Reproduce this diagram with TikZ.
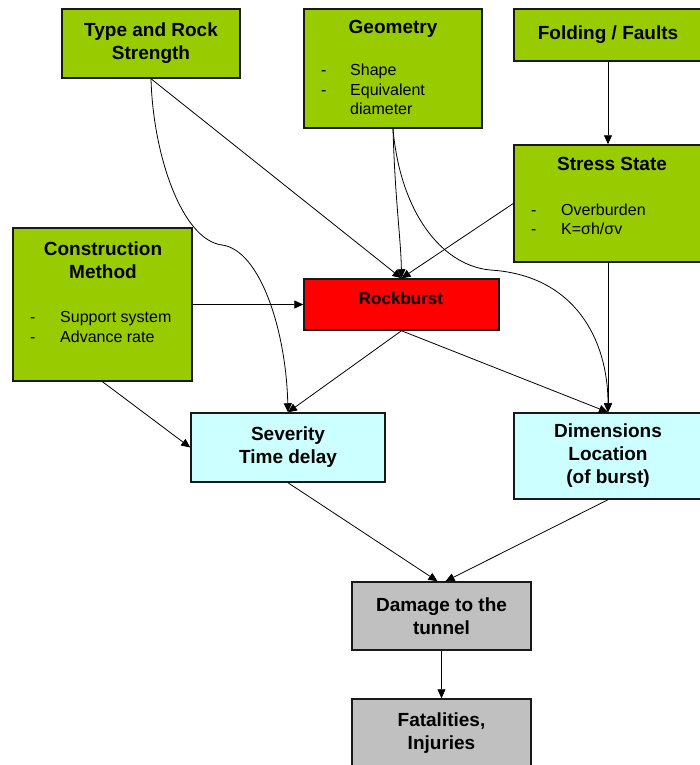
\documentclass[tikz,border=0pt]{standalone}
\usepackage{fontspec}
\setmainfont{Liberation Sans}
\usetikzlibrary{arrows.meta}
\definecolor{leafgreen}{HTML}{99CC00}
\definecolor{burstred}{HTML}{FF0000}
\definecolor{paleblue}{HTML}{CCFFFF}
\definecolor{lossgrey}{HTML}{C0C0C0}

\begin{document}
\begin{tikzpicture}
  [x=1pt, y=-1pt,
   box/.style={draw=black!90, line width=1.5pt, inner sep=0pt},
   factor/.style={box, fill=leafgreen},
   burst/.style={box, fill=burstred},
   effect/.style={box, fill=paleblue},
   loss/.style={box, fill=lossgrey},
   head/.style={font=\bfseries\fontsize{19}{23}\selectfont, align=center},
   items/.style={font=\fontsize{16}{19.5}\selectfont, align=left, inner sep=0pt},
   arr/.style={-{Triangle[length=9pt,width=8pt]}, line width=0.8pt}]

  \useasboundingbox (0,0) rectangle (700,765);

  %Influencing factors
  \node[factor, head, minimum width=178pt, minimum height=69pt] (type) at (151,43.5) {Type and Rock\\Strength};
  \node[factor, minimum width=178pt, minimum height=119pt] (geom) at (393,68.5) {};
  \node[head] (geomhead) at (393,29) {Geometry};
  \node[items, anchor=west] (geomitems) at (321,89.5) {\makebox[29pt][l]{-}Shape\\\makebox[29pt][l]{-}Equivalent\\\hspace*{29pt}diameter};
  \node[factor, head, minimum width=188pt, minimum height=52pt] (fold) at (608,35) {Folding / Faults};
  \node[factor, minimum width=188pt, minimum height=117pt] (stress) at (608,203.5) {};
  \node[head] (stresshead) at (612,164) {Stress State};
  \node[items, anchor=west] (stressitems) at (531,219.5) {\makebox[30pt][l]{-}Overburden\\\makebox[30pt][l]{-}K=σh/σv};
  \node[factor, minimum width=179pt, minimum height=153pt] (cons) at (102.5,304.5) {};
  \node[head] (conshead) at (103,260) {Construction\\Method};
  \node[items, anchor=west] (consitems) at (30,327) {\makebox[30pt][l]{-}Support system\\\makebox[30pt][l]{-}Advance rate};

  %Rockburst and its effects
  \node[burst, minimum width=195pt, minimum height=51pt] (rock) at (401.5,304.5) {};
  \node[head, font=\bfseries\fontsize{17}{20}\selectfont] (rockhead) at (401,298) {Rockburst};
  \node[effect, head, minimum width=194pt, minimum height=69pt] (sev) at (288,447.5) {Severity\\Time delay};
  \node[effect, head, minimum width=188pt, minimum height=86pt] (dim) at (608,456) {Dimensions\\Location\\(of burst)};
  \node[loss, head, minimum width=179pt, minimum height=68pt] (dmg) at (441.5,616) {Damage to the\\tunnel};
  \node[loss, head, minimum width=179pt, minimum height=68pt] (fat) at (441.5,733) {Fatalities,\\Injuries};

  %Straight links
  \foreach \a/\b in {fold.south/stress.north, stress.west/rock.north, type.south/rock.north,
    cons.east/rock.west, cons.south/sev.west, rock.south/sev.north, rock.south/dim.north,
    stress.south/dim.north, dmg.south/fat.north}
    \draw[arr] (\a) -- (\b);
  \draw[arr] (sev.south) -- ([xshift=-4pt]dmg.north);
  \draw[arr] (dim.south) -- ([xshift=4pt]dmg.north);

  %Curved links
  \coordinate (typebend) at (222,245);
  \draw[arr] (type.south) .. controls (153,155) and (182,240) .. (typebend)
    .. controls (260,250) and (286,330) .. (sev.north);
  \draw[arr] (geom.south) .. controls (395,200) and (401,240) .. (rock.north);
  \coordinate (geombend) at (490,270);
  \draw[arr] (geom.south) .. controls (400,210) and (440,265) .. (geombend)
    .. controls (575,275) and (608,340) .. (dim.north);
\end{tikzpicture}
\end{document}
